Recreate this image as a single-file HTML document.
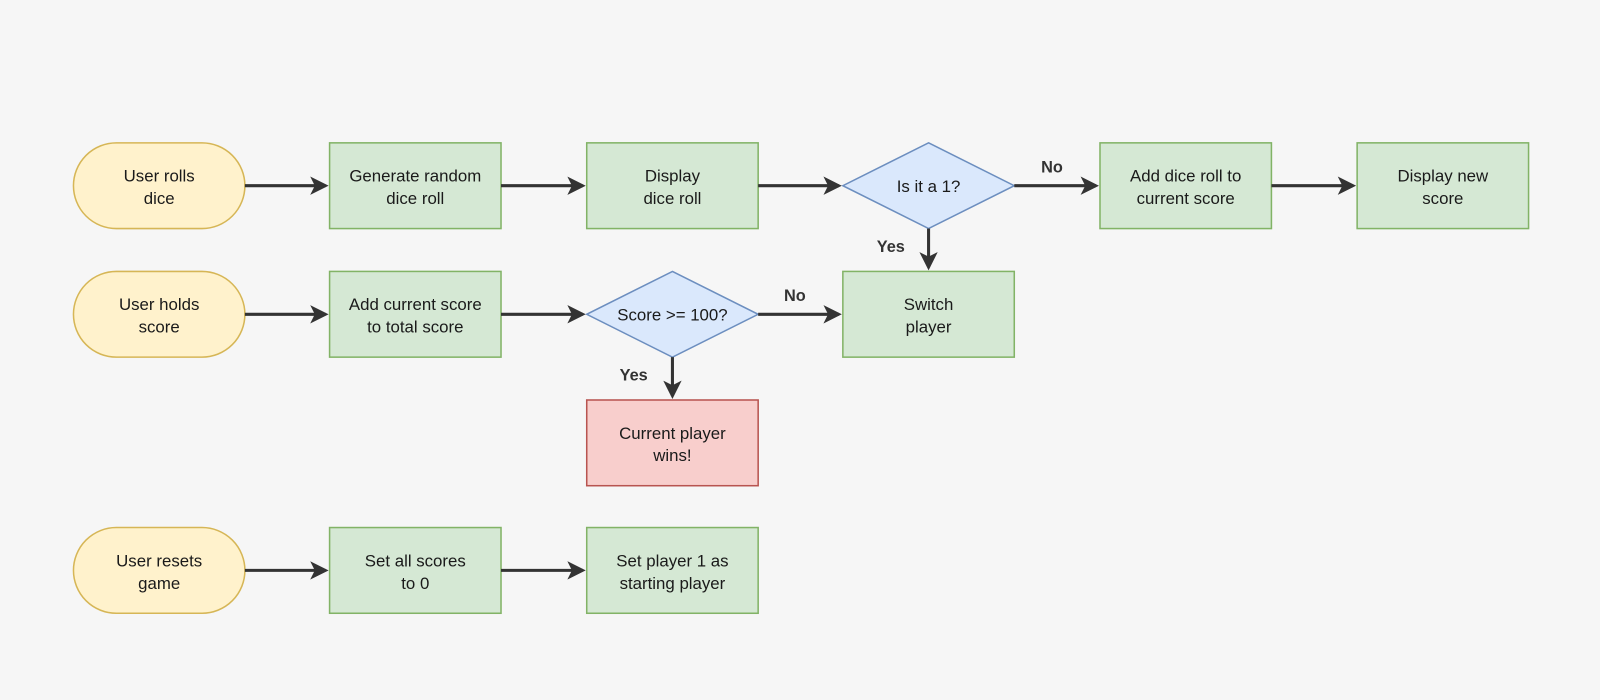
<!DOCTYPE html>
<html><head><style>
html,body{margin:0;padding:0;background:#f6f6f6;}
svg{display:block;}
text{font-family:"Liberation Sans",sans-serif;font-size:16.5px;fill:#1a1a1a;text-anchor:middle;}
.l{font-weight:bold;fill:#333;font-size:16px;}
.g{fill:#d5e8d4;stroke:#82b366;stroke-width:1.5;}
.y{fill:#fff2cc;stroke:#d6b656;stroke-width:1.5;}
.b{fill:#dae8fc;stroke:#6c8ebf;stroke-width:1.5;}
.r{fill:#f8cecc;stroke:#b85450;stroke-width:1.5;}
.a{stroke:#333;stroke-width:3;fill:none;marker-end:url(#ah);}
</style></head><body>
<svg width="1600" height="700" viewBox="0 0 1600 700">
<defs><marker id="ah" markerWidth="6" markerHeight="6" refX="5" refY="3" orient="auto" markerUnits="strokeWidth"><path d="M0,0 L6,3 L0,6 L1.5,3 Z" fill="#333"/></marker></defs>
<rect width="1600" height="700" fill="#f6f6f6"/>
<g transform="scale(1.0204)">
<!-- row 1 -->
<rect class="y" x="72" y="140" width="168" height="84" rx="42"/>
<text x="156" y="178">User rolls</text><text x="156" y="200">dice</text>
<rect class="g" x="323" y="140" width="168" height="84"/>
<text x="407" y="178">Generate random</text><text x="407" y="200">dice roll</text>
<rect class="g" x="575" y="140" width="168" height="84"/>
<text x="659" y="178">Display</text><text x="659" y="200">dice roll</text>
<polygon class="b" points="910,140 994,182 910,224 826,182"/>
<text x="910" y="188">Is it a 1?</text>
<rect class="g" x="1078" y="140" width="168" height="84"/>
<text x="1162" y="178">Add dice roll to</text><text x="1162" y="200">current score</text>
<rect class="g" x="1330" y="140" width="168" height="84"/>
<text x="1414" y="178">Display new</text><text x="1414" y="200">score</text>
<path class="a" d="M240,182 H319"/>
<path class="a" d="M491,182 H571"/>
<path class="a" d="M743,182 H822"/>
<path class="a" d="M994,182 H1074"/>
<path class="a" d="M1246,182 H1326"/>
<text class="l" x="1031" y="169">No</text>
<path class="a" d="M910,224 V262"/>
<text class="l" x="873" y="247">Yes</text>
<!-- row 2 -->
<rect class="y" x="72" y="266" width="168" height="84" rx="42"/>
<text x="156" y="304">User holds</text><text x="156" y="326">score</text>
<rect class="g" x="323" y="266" width="168" height="84"/>
<text x="407" y="304">Add current score</text><text x="407" y="326">to total score</text>
<polygon class="b" points="659,266 743,308 659,350 575,308"/>
<text x="659" y="314">Score &gt;= 100?</text>
<rect class="g" x="826" y="266" width="168" height="84"/>
<text x="910" y="304">Switch</text><text x="910" y="326">player</text>
<path class="a" d="M240,308 H319"/>
<path class="a" d="M491,308 H571"/>
<path class="a" d="M743,308 H822"/>
<text class="l" x="779" y="295">No</text>
<path class="a" d="M659,350 V388"/>
<text class="l" x="621" y="373">Yes</text>
<rect class="r" x="575" y="392" width="168" height="84"/>
<text x="659" y="430">Current player</text><text x="659" y="452">wins!</text>
<!-- row 3 -->
<rect class="y" x="72" y="517" width="168" height="84" rx="42"/>
<text x="156" y="555">User resets</text><text x="156" y="577">game</text>
<rect class="g" x="323" y="517" width="168" height="84"/>
<text x="407" y="555">Set all scores</text><text x="407" y="577">to 0</text>
<rect class="g" x="575" y="517" width="168" height="84"/>
<text x="659" y="555">Set player 1 as</text><text x="659" y="577">starting player</text>
<path class="a" d="M240,559 H319"/>
<path class="a" d="M491,559 H571"/>
</g>
</svg>
</body></html>
